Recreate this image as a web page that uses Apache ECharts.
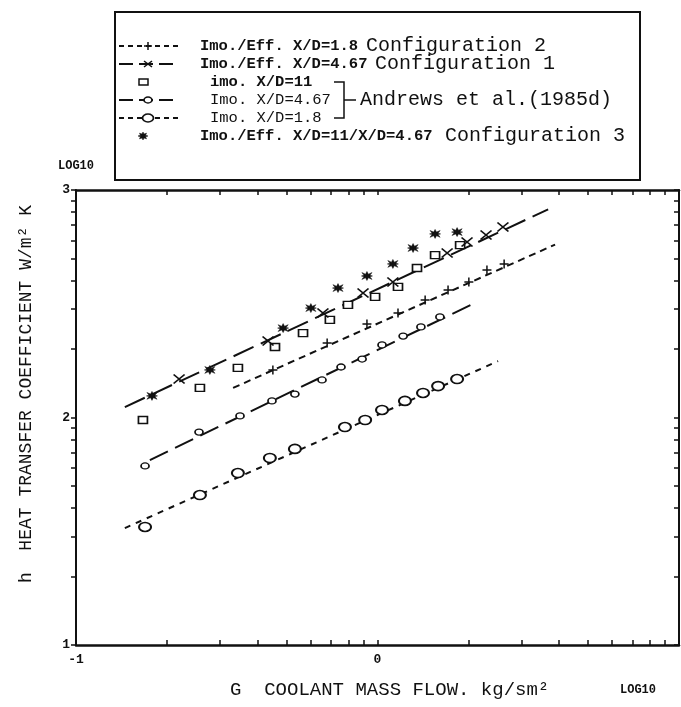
<!DOCTYPE html>
<html>
<head>
<meta charset="utf-8">
<script src="https://cdn.jsdelivr.net/npm/echarts@6/dist/echarts.min.js"></script>
<style>
  html, body { margin: 0; padding: 0; background: #ffffff; }
  #chart { width: 681px; height: 707px; }
</style>
</head>
<body>
<div id="chart"></div>
<script>
// Heat transfer coefficient against coolant mass flow, both as log10 values.
// x: log10 G (kg/s m^2), y: log10 h (W/m^2 K)

// Imp./Eff. X/D=11/X/D=4.67 (Configuration 3)
const config3Points = [
  [-0.748, 2.095], [-0.556, 2.209], [-0.313, 2.393], [-0.221, 2.481], [-0.131, 2.569],
  [-0.035, 2.622], [0.051, 2.675], [0.118, 2.745], [0.191, 2.807], [0.264, 2.815]
];
// Imp./Eff. X/D=4.67 (Configuration 1)
const config1Points = [
  [-0.658, 2.169], [-0.363, 2.336], [-0.181, 2.459], [-0.048, 2.547], [0.051, 2.596],
  [0.231, 2.723], [0.297, 2.771], [0.360, 2.802], [0.416, 2.837]
];
const config1Fit = [[-0.838, 2.046], [0.566, 2.915]];
// Imp./Eff. X/D=1.8 (Configuration 2)
const config2Points = [
  [-0.347, 2.209], [-0.167, 2.327], [-0.035, 2.411], [0.068, 2.459], [0.158, 2.516],
  [0.234, 2.560], [0.303, 2.596], [0.363, 2.648], [0.420, 2.675]
];
const config2Fit = [[-0.479, 2.130], [0.589, 2.760]];
// Andrews et al. (1985d), impingement only
const imp11Points = [
  [-0.778, 1.989], [-0.589, 2.130], [-0.463, 2.218], [-0.340, 2.310], [-0.247, 2.371],
  [-0.158, 2.429], [-0.098, 2.495], [-0.008, 2.530], [0.068, 2.574], [0.131, 2.657],
  [0.191, 2.714], [0.274, 2.758]
];
const imp467Points = [
  [-0.771, 1.787], [-0.592, 1.936], [-0.456, 2.007], [-0.350, 2.073], [-0.274, 2.103],
  [-0.184, 2.165], [-0.121, 2.222], [-0.051, 2.257], [0.015, 2.319], [0.085, 2.358],
  [0.144, 2.398], [0.207, 2.442]
];
const imp467Fit = [[-0.755, 1.813], [0.330, 2.508]];
const imp18Points = [
  [-0.771, 1.519], [-0.589, 1.659], [-0.463, 1.756], [-0.357, 1.822], [-0.274, 1.862],
  [-0.108, 1.958], [-0.041, 1.989], [0.015, 2.033], [0.091, 2.073], [0.151, 2.108],
  [0.201, 2.138], [0.264, 2.169]
];
const imp18Fit = [[-0.838, 1.514], [0.400, 2.248]];

// axis ranges and labels
const xRange = [-1, 1];
const yRange = [1, 3];
const xLabelValues = [-1, 0];
const yLabelValues = [1, 2, 3];
const logSteps = [2, 3, 4, 5, 6, 7, 8, 9];

function decadeTicks(lo, hi) {
  const out = [];
  for (let d = lo; d < hi; d++) {
    out.push(d);
    logSteps.forEach(k => out.push(d + Math.log10(k)));
  }
  out.push(hi);
  return out;
}
const xTicks = decadeTicks(xRange[0], xRange[1]);
const yTicks = decadeTicks(yRange[0], yRange[1]);

const MONO = '"Liberation Mono", "DejaVu Sans Mono", monospace';
const INK = '#111';

const SYM_PLUS = 'path://M5,0L5,10M0,5L10,5';
const SYM_CROSS = 'path://M0,0L10,10M10,0L0,10';
const SYM_STAR = 'path://M5,0L6.3,3L9.6,1.2L7.7,4.3L10,5L7.7,5.7L9.6,8.8L6.3,7L5,10L3.7,7L0.4,8.8L2.3,5.7L0,5L2.3,4.3L0.4,1.2L3.7,3Z';

function fitLine(data, dash) {
  return {
    type: 'line', data, symbol: 'none', silent: true, z: 2,
    lineStyle: { color: INK, width: 2, type: dash }
  };
}
function markers(data, symbol, size, fill, border) {
  return {
    type: 'scatter', data, symbol, symbolSize: size, silent: true, z: 3,
    itemStyle: { color: fill, borderColor: INK, borderWidth: border, opacity: 1 }
  };
}

const axisLine = (w) => ({ show: true, onZero: false, lineStyle: { color: INK, width: w } });
const tickStyle = { color: INK, width: 1.5 };

const chart = echarts.init(document.getElementById('chart'), null, { renderer: 'canvas' });

// boxed key
const legendRowsY = [46, 64, 82, 100, 118, 136];
const keyX0 = 119, keyX1 = 178, keyMid = 148;
const KEY_BOLD = 15.5, KEY_NOTE = 20;
function keyLine(y, dash) {
  return { type: 'line', shape: { x1: keyX0, y1: y, x2: keyX1, y2: y },
    style: { stroke: INK, lineWidth: 2, lineDash: dash } };
}
function seg(x1, y1, x2, y2, w) {
  return { type: 'line', shape: { x1, y1, x2, y2 }, style: { stroke: INK, lineWidth: w || 1.5 } };
}
function keyText(x, y, text, bold, size) {
  return { type: 'text', x, y, style: { text, fill: INK, font: (bold ? 'bold ' : '') + size + 'px ' + MONO,
    verticalAlign: 'middle', align: 'left' } };
}
function keyOval(y, rx, ry) {
  return { type: 'circle', x: keyMid, y, scaleX: rx / ry, scaleY: 1, shape: { cx: 0, cy: 0, r: ry },
    style: { fill: '#fff', stroke: INK, lineWidth: 1.3 } };
}
function starPoints(cx, cy, w, h) {
  const pts = [];
  for (let i = 0; i < 16; i++) {
    const a = i * Math.PI / 8;
    const r = i % 2 === 0 ? 1 : 0.55;
    pts.push([cx + Math.cos(a) * r * w / 2, cy + Math.sin(a) * r * h / 2]);
  }
  return pts;
}

const r = legendRowsY;
const legendGraphics = [
  { type: 'rect', shape: { x: 115, y: 12, width: 525, height: 168 }, style: { fill: 'none', stroke: INK, lineWidth: 2 } },
  keyLine(r[0], [5, 4]),
  seg(keyMid, r[0] - 4, keyMid, r[0] + 4), seg(keyMid - 4, r[0], keyMid + 4, r[0]),
  keyText(200, r[0], 'Imo./Eff. X/D=1.8', true, KEY_BOLD),
  keyText(366, r[0], 'Configuration 2', false, KEY_NOTE),
  keyLine(r[1], [14, 6]),
  seg(keyMid - 4, r[1] - 3, keyMid + 4, r[1] + 3), seg(keyMid - 4, r[1] + 3, keyMid + 4, r[1] - 3),
  keyText(200, r[1], 'Imo./Eff. X/D=4.67', true, KEY_BOLD),
  keyText(375, r[1], 'Configuration 1', false, KEY_NOTE),
  { type: 'rect', shape: { x: 139, y: r[2] - 3, width: 9, height: 6 }, style: { fill: '#fff', stroke: INK, lineWidth: 1.5 } },
  keyText(210, r[2], 'imo. X/D=11', true, KEY_BOLD),
  keyLine(r[3], [14, 6]),
  keyOval(r[3], 4, 3),
  keyText(210, r[3], 'Imo. X/D=4.67', false, KEY_BOLD),
  keyLine(r[4], [5, 4]),
  keyOval(r[4], 5.5, 4),
  keyText(210, r[4], 'Imo. X/D=1.8', false, KEY_BOLD),
  // bracket grouping the three impingement-only rows
  { type: 'polyline', shape: { points: [[334, r[2]], [344, r[2]], [344, r[4]], [334, r[4]]] },
    style: { fill: 'none', stroke: INK, lineWidth: 1.5 } },
  seg(344, r[3], 356, r[3]),
  keyText(360, r[3], 'Andrews et al.(1985d)', false, KEY_NOTE),
  { type: 'polygon', shape: { points: starPoints(143, r[5], 10, 8) }, style: { fill: INK, stroke: INK, lineWidth: 0.5 } },
  keyText(200, r[5], 'Imo./Eff. X/D=11/X/D=4.67', true, KEY_BOLD),
  keyText(445, r[5], 'Configuration 3', false, KEY_NOTE)
];

const axisTitles = [
  { type: 'text', x: 26, y: 394, rotation: Math.PI / 2,
    style: { text: 'h  HEAT TRANSFER COEFFICIENT W/m\u00b2 K', fill: INK, font: '18px ' + MONO,
      align: 'center', verticalAlign: 'middle' } },
  { type: 'text', x: 230, y: 690,
    style: { text: 'G  COOLANT MASS FLOW. kg/sm\u00b2', fill: INK, font: '19px ' + MONO,
      align: 'left', verticalAlign: 'middle' } },
  { type: 'text', x: 638, y: 690,
    style: { text: 'LOG10', fill: INK, font: 'bold 12px ' + MONO, align: 'center', verticalAlign: 'middle' } },
  { type: 'text', x: 76, y: 166,
    style: { text: 'LOG10', fill: INK, font: 'bold 12px ' + MONO, align: 'center', verticalAlign: 'middle' } }
];

chart.setOption({
  animation: false,
  backgroundColor: '#ffffff',
  grid: { left: 76, right: 2, top: 190, bottom: 62, containLabel: false },
  xAxis: [
    { type: 'value', min: xRange[0], max: xRange[1], interval: 1, position: 'bottom',
      axisLine: axisLine(2.5),
      axisTick: { show: true, inside: true, length: 5, customValues: xTicks, lineStyle: tickStyle },
      axisLabel: { show: true, customValues: xLabelValues, formatter: v => String(v), color: INK,
        fontFamily: MONO, fontSize: 13, fontWeight: 'bold', margin: 8 },
      splitLine: { show: false } },
    { type: 'value', min: xRange[0], max: xRange[1], interval: 1, position: 'top',
      axisLine: axisLine(2.5),
      axisTick: { show: true, inside: true, length: 5, customValues: xTicks, lineStyle: tickStyle },
      axisLabel: { show: false }, splitLine: { show: false } }
  ],
  yAxis: [
    { type: 'value', min: yRange[0], max: yRange[1], interval: 1, position: 'left',
      axisLine: axisLine(2),
      axisTick: { show: true, inside: false, length: 5, customValues: yTicks, lineStyle: tickStyle },
      axisLabel: { show: true, customValues: yLabelValues, formatter: v => String(v), color: INK,
        fontFamily: MONO, fontSize: 13, fontWeight: 'bold', margin: 6 },
      splitLine: { show: false } },
    { type: 'value', min: yRange[0], max: yRange[1], interval: 1, position: 'right',
      axisLine: axisLine(2),
      axisTick: { show: true, inside: true, length: 5, customValues: yTicks, lineStyle: tickStyle },
      axisLabel: { show: false }, splitLine: { show: false } }
  ],
  series: [
    fitLine(imp18Fit, [6, 6]),
    fitLine(imp467Fit, [20, 8]),
    fitLine(config2Fit, [7, 5]),
    fitLine(config1Fit, [22, 8]),
    markers(imp18Points, 'circle', [12, 9], '#fff', 1.8),
    markers(imp467Points, 'circle', [8, 6], '#fff', 1.5),
    markers(imp11Points, 'rect', [9, 7], '#fff', 1.5),
    markers(config2Points, SYM_PLUS, [9, 9], 'none', 1.5),
    markers(config1Points, SYM_CROSS, [11, 9], 'none', 1.6),
    markers(config3Points, SYM_STAR, [11, 9], INK, 0.5)
  ],
  graphic: legendGraphics.concat(axisTitles)
});
</script>
</body>
</html>
